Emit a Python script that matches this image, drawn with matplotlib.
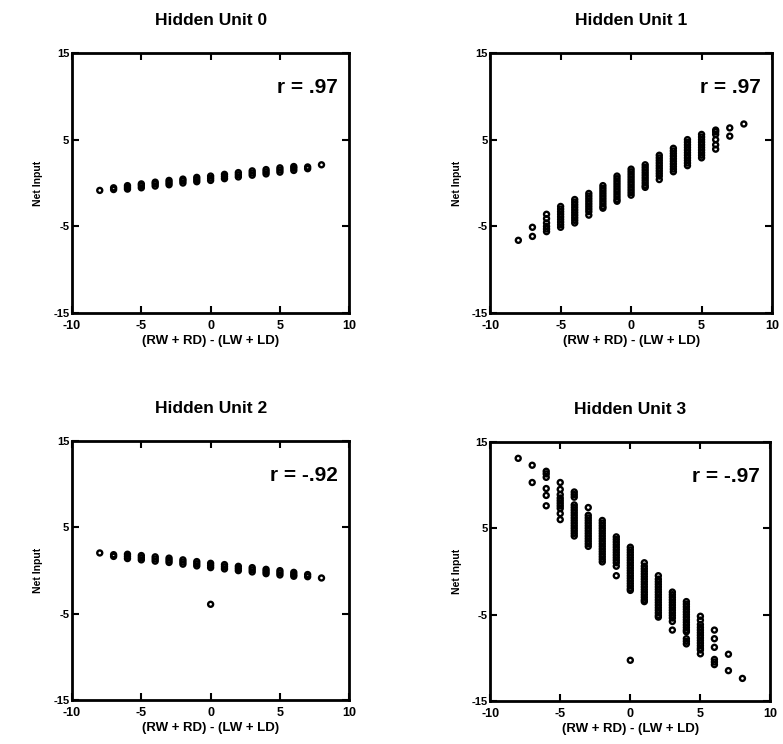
import matplotlib
matplotlib.use("Agg")
import matplotlib.pyplot as plt

plt.rcParams['font.family'] = ['Liberation Sans', 'DejaVu Sans']
plt.rcParams['font.weight'] = 'bold'

# (RW + RD) - (LW + LD), one column of points per value
diffs = [-8, -7, -6, -5, -4, -3, -2, -1, 0, 1, 2, 3, 4, 5, 6, 7, 8]

unit0_y = [
    [-0.85], [-0.75, -0.55], [-0.7, -0.5, -0.3], [-0.55, -0.3, -0.1],
    [-0.35, -0.1, 0.1], [-0.2, 0.05, 0.3], [0.0, 0.25, 0.45],
    [0.15, 0.4, 0.65], [0.3, 0.55, 0.8], [0.5, 0.75, 1.0],
    [0.7, 0.95, 1.2], [0.9, 1.15, 1.4], [1.05, 1.3, 1.55],
    [1.25, 1.5, 1.75], [1.45, 1.7, 1.9], [1.65, 1.85], [2.1],
]

unit1_y = [
    [-6.6],
    [-5.1, -6.15],
    [-3.6, -4.1, -4.6, -5.0, -5.3, -5.6],
    [-2.7, -3.0, -3.3, -3.6, -3.9, -4.2, -4.5, -4.8, -5.1],
    [-1.9, -2.2, -2.5, -2.8, -3.1, -3.4, -3.7, -4.0, -4.3, -4.6],
    [-1.2, -1.5, -1.8, -2.1, -2.4, -2.7, -3.0, -3.3, -3.7],
    [-0.3, -0.6, -0.9, -1.2, -1.5, -1.8, -2.1, -2.4, -2.7, -2.9],
    [0.8, 0.5, 0.2, -0.1, -0.4, -0.7, -1.0, -1.3, -1.6, -1.9, -2.1],
    [1.6, 1.3, 1.0, 0.7, 0.4, 0.1, -0.2, -0.5, -0.8, -1.1, -1.4],
    [2.1, 1.8, 1.5, 1.2, 0.9, 0.6, 0.3, 0.0, -0.3, -0.5],
    [3.2, 2.9, 2.6, 2.3, 2.0, 1.7, 1.4, 1.1, 0.8, 0.4],
    [4.0, 3.7, 3.4, 3.1, 2.8, 2.5, 2.2, 1.9, 1.6, 1.3],
    [5.0, 4.7, 4.4, 4.1, 3.8, 3.5, 3.2, 2.9, 2.6, 2.3, 2.0],
    [5.6, 5.3, 5.0, 4.7, 4.4, 4.1, 3.8, 3.5, 3.2, 2.9],
    [6.1, 5.9, 5.6, 5.0, 4.4, 3.9],
    [6.35, 5.4],
    [6.8],
]

unit2_y = [
    [2.05], [1.85, 1.65], [1.9, 1.65, 1.4], [1.75, 1.5, 1.25],
    [1.6, 1.35, 1.1], [1.45, 1.2, 0.95], [1.25, 1.0, 0.75],
    [1.05, 0.8, 0.55], [0.85, 0.6, 0.35, -3.9], [0.7, 0.45, 0.2],
    [0.5, 0.25, 0.0], [0.35, 0.1, -0.15], [0.15, -0.1, -0.35],
    [0.0, -0.25, -0.5], [-0.2, -0.45, -0.65], [-0.45, -0.7], [-0.85],
]

unit3_y = [
    [13.1],
    [12.3, 10.3],
    [11.6, 11.3, 10.9, 9.6, 8.8, 7.6],
    [10.3, 9.5, 8.9, 8.5, 8.2, 7.9, 7.6, 7.3, 6.7, 6.0],
    [9.2, 8.9, 8.6, 7.7, 7.4, 7.1, 6.8, 6.5, 6.2, 5.9, 5.6, 5.3, 5.0, 4.7, 4.4, 4.1],
    [7.4, 6.5, 6.2, 5.9, 5.6, 5.3, 5.0, 4.7, 4.4, 4.1, 3.8, 3.5, 3.2, 2.9],
    [5.9, 5.6, 5.3, 5.0, 4.7, 4.4, 4.1, 3.8, 3.5, 3.2, 2.9, 2.6, 2.3, 2.0, 1.7, 1.4, 1.1],
    [4.0, 3.7, 3.4, 3.1, 2.8, 2.5, 2.2, 1.9, 1.6, 1.3, 1.0, 0.6, -0.5],
    [2.8, 2.5, 2.2, 1.9, 1.6, 1.3, 1.0, 0.7, 0.4, 0.1, -0.2, -0.5, -0.8,
     -1.1, -1.4, -1.7, -2.0, -2.2, -10.3],
    [1.0, 0.6, 0.3, 0.0, -0.3, -0.6, -0.9, -1.2, -1.5, -1.8, -2.1, -2.4,
     -2.7, -3.0, -3.3, -3.5],
    [-0.5, -0.9, -1.2, -1.5, -1.8, -2.1, -2.4, -2.7, -3.0, -3.3, -3.6,
     -3.9, -4.2, -4.5, -4.8, -5.1, -5.3],
    [-2.4, -2.7, -3.0, -3.3, -3.6, -3.9, -4.2, -4.5, -4.8, -5.1, -5.4, -5.8, -6.8],
    [-3.5, -3.8, -4.1, -4.4, -4.7, -5.0, -5.3, -5.6, -5.9, -6.2, -6.5, -6.8,
     -7.0, -7.8, -8.1, -8.4],
    [-5.2, -5.65, -6.15, -6.5, -6.8, -7.1, -7.4, -7.7, -8.0, -8.3, -8.6,
     -8.9, -9.1, -9.55],
    [-6.8, -7.8, -8.8, -10.2, -10.5, -10.8],
    [-9.6, -11.5],
    [-12.4],
]

titles = ["Hidden Unit 0", "Hidden Unit 1", "Hidden Unit 2", "Hidden Unit 3"]
r_labels = ["r = .97", "r = .97", "r = -.92", "r = -.97"]
x_ticks = [-10, -5, 0, 5, 10]
y_ticks = [-15, -5, 5, 15]

fig = plt.figure(figsize=(7.83, 7.44), dpi=100)

boxes = [
    [0.092, 0.579, 0.354, 0.350],
    [0.626, 0.579, 0.360, 0.350],
    [0.092, 0.059, 0.354, 0.348],
    [0.626, 0.058, 0.358, 0.348],
]
all_y = [unit0_y, unit1_y, unit2_y, unit3_y]

for i in range(4):
    ax = fig.add_axes(boxes[i])

    xs = []
    ys = []
    for d, col in zip(diffs, all_y[i]):
        for v in col:
            xs.append(d)
            ys.append(v)

    ax.scatter(xs, ys, s=13, facecolors="none", edgecolors="black", linewidths=1.7)

    ax.set_xlim(-10, 10)
    ax.set_ylim(-15, 15)
    ax.set_xticks(x_ticks)
    ax.set_yticks(y_ticks)
    ax.set_xticklabels([str(t) for t in x_ticks], fontsize=9, fontweight="bold")
    ax.set_yticklabels([str(t) for t in y_ticks], fontsize=8, fontweight="bold")
    ax.tick_params(direction="in", length=5, width=1.5, top=True, right=True)
    ax.tick_params(axis="x", pad=5)
    ax.tick_params(axis="y", pad=2)

    for sp in ax.spines.values():
        sp.set_linewidth(2)

    ax.set_title(titles[i], fontsize=12.5, fontweight="bold", pad=20)
    ax.set_xlabel("(RW + RD) - (LW + LD)", fontsize=9.5, fontweight="bold", labelpad=2)
    ax.set_ylabel("Net Input", fontsize=7.5, fontweight="bold", labelpad=7)

    ax.text(9.2, 11, r_labels[i], ha="right", va="center", fontsize=15, fontweight="bold")

fig.savefig("out.png", dpi=100)
